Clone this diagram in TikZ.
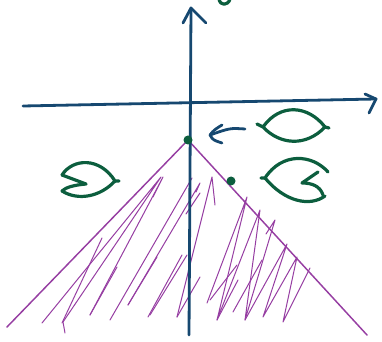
\documentclass[tikz,border=0pt]{standalone}
\usetikzlibrary{calc}

\definecolor{inkblue}{RGB}{22,72,112}
\definecolor{inkgreen}{RGB}{12,94,62}
\definecolor{inkpurple}{RGB}{150,62,162}

\begin{document}
\begin{tikzpicture}[x=0.75pt, y=-0.75pt, line cap=round, line join=round,
    axis/.style={inkblue, line width=2.1pt},
    region/.style={inkpurple, line width=1.1pt},
    hatch/.style={inkpurple, line width=0.75pt},
    leaf/.style={inkgreen, line width=2.4pt},
    blob/.style={inkgreen, fill=inkgreen}]

  \useasboundingbox (0,0) rectangle (382,342);

  % key points (pixel grid of the sketch)
  \coordinate (ybot) at (189,335);
  \coordinate (ytop) at (191,8);
  \coordinate (xleft) at (23,106);
  \coordinate (xright) at (376,99);
  \coordinate (apex) at (188,140);
  \coordinate (bl) at (7,327);
  \coordinate (br) at (367,335);
  \coordinate (inner) at (231,181);

  % hatching of the region
  \draw[hatch] (42,323) -- (161,177) -- (63,322) -- (65,333);
  \draw[hatch] (62,323) -- (102,238);
  \draw[hatch] (90,315) -- (163,177) -- (153,197);
  \draw[hatch] (90,315) -- (117,267);
  \draw[hatch] (110,320) -- (192,178);
  \draw[hatch] (128,305) -- (157,257);
  \draw[hatch] (128,305) -- (200,183) -- (196,192);
  \draw[hatch] (148,317) -- (182,255);
  \draw[hatch] (150,315) -- (187,255);
  \draw[hatch] (177,317) -- (200,277);
  \draw[hatch] (177,317) -- (212,177) -- (215,205);
  \draw[hatch] (186,214) -- (200,193);
  \draw[hatch] (207,303) -- (247,197) -- (217,320) -- (260,210) -- (245,320)
                -- (275,220) -- (266,234);
  \draw[hatch] (210,300) -- (237,265);
  \draw[hatch] (245,320) -- (287,244) -- (263,317) -- (297,257) -- (283,322)
                -- (310,268);
  \draw[hatch] (217,320) -- (238,280);
  \draw[hatch] (233,312) -- (262,260);

  % region boundary
  \draw[region] (bl) -- (apex) -- (br);

  % axes
  \draw[axis] (xleft) -- (xright);
  \draw[axis] (365,94) -- (xright) -- (369,113);
  \draw[axis] (ybot) -- (ytop);
  \draw[axis] (183,23) -- (ytop) -- (206,23);

  % points
  \fill[blob] (apex) circle (4.5);
  \fill[blob] (inner) circle (4.5);

  % arrow towards the apex
  \coordinate (atail) at (245,129);
  \coordinate (ahead) at (210,135);
  \draw[axis] (atail) .. controls (230,128) .. (ahead);
  \draw[axis] (222,125) .. controls (214,130) .. (ahead) .. controls (213,140) .. (222,143);

  % leaves
  \draw[leaf] (257,124) -- (263,127) .. controls (280,103) and (308,105) .. (325,127)
              .. controls (306,147) and (280,145) .. (263,127);
  \draw[leaf] (325,127) -- (329,128);

  \draw[leaf] (261,178) -- (265,178) .. controls (282,152) and (312,154) .. (328,172);
  \draw[leaf] (318,172) -- (302,183) .. controls (312,183) and (320,186) .. (323,195);
  \draw[leaf] (325,196) .. controls (310,207) and (285,202) .. (265,178);

  \draw[leaf] (119,181) -- (115,181) .. controls (100,157) and (73,158) .. (62,175);
  \draw[leaf] (62,175) -- (86,184) .. controls (75,185) and (66,187) .. (62,191);
  \draw[leaf] (62,191) .. controls (78,201) and (100,197) .. (115,181);

  % fragment cut at the top edge
  \draw[leaf] (219,-1) .. controls (220,6) and (228,6) .. (230,-1);

\end{tikzpicture}
\end{document}
